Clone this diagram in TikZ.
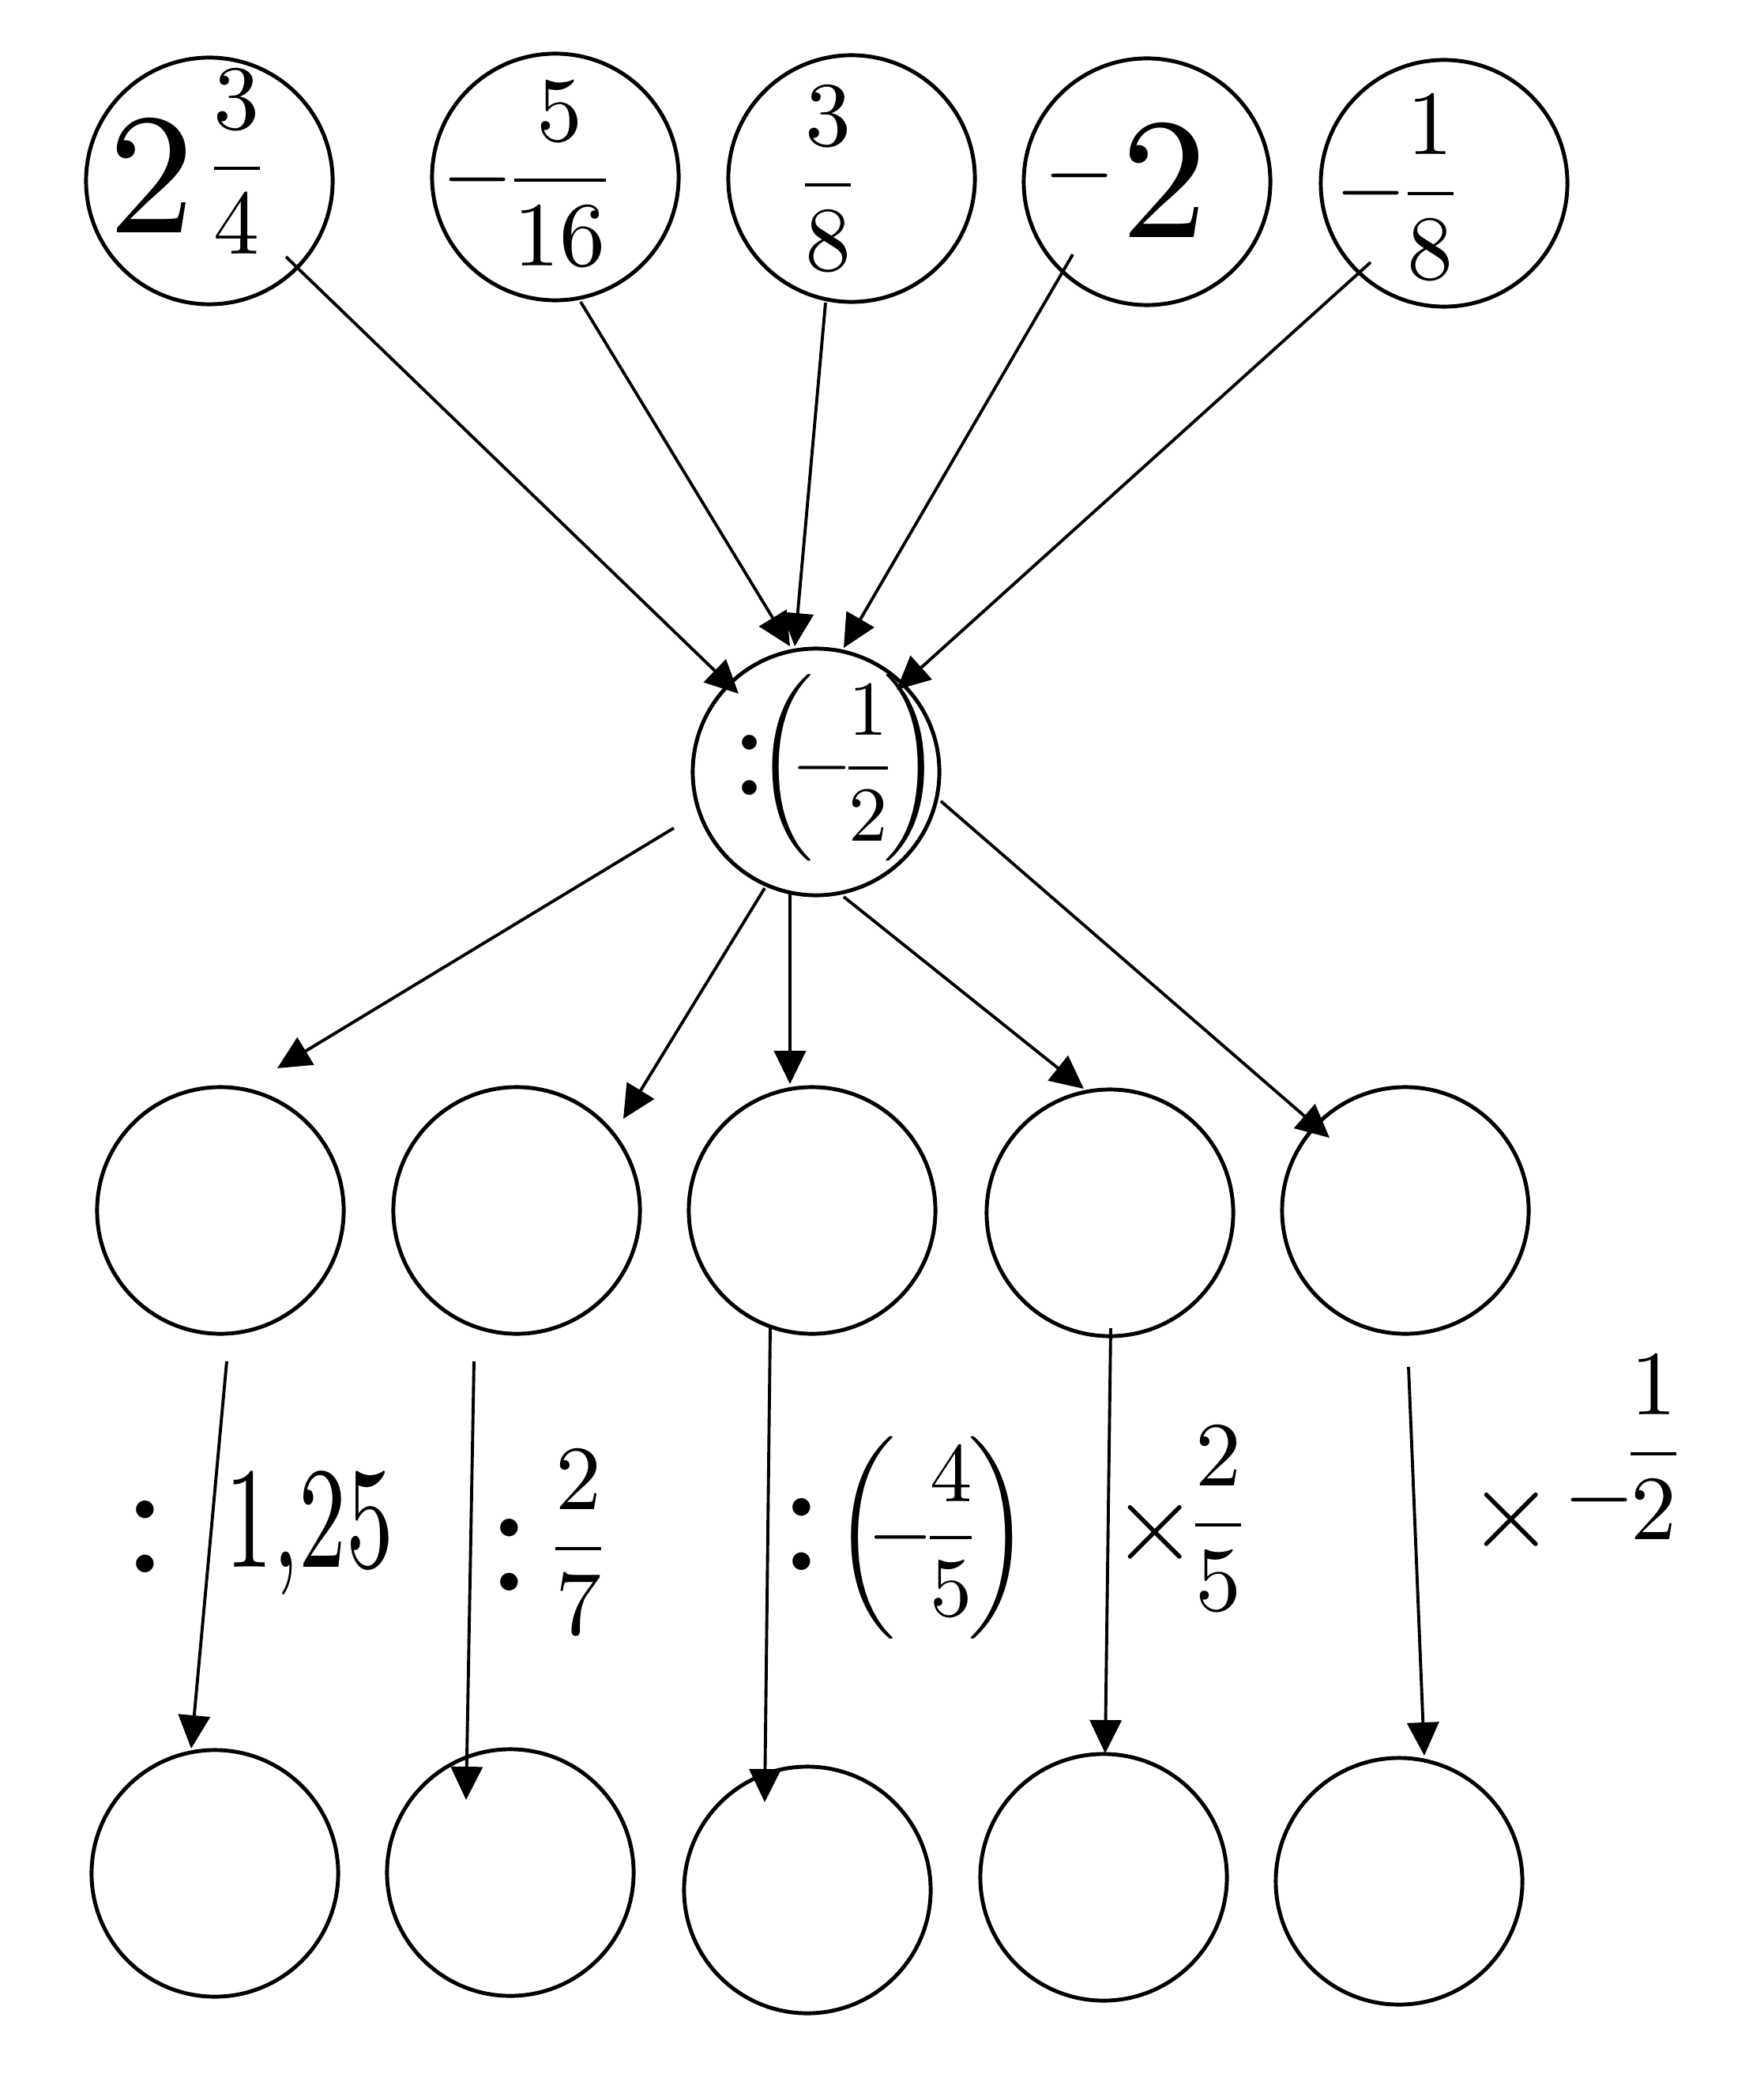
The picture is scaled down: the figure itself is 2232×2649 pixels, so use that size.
\documentclass[tikz,border=0pt]{standalone}
\usepackage{amsmath}
\usetikzlibrary{arrows.meta}
\begin{document}
\begin{tikzpicture}[x=0.01cm,y=-0.01cm,
  circ/.style={circle,draw,line width=1.4pt,minimum size=3.12cm,inner sep=0pt},
  arr/.style={line width=1.1pt,-{Triangle[length=4.2mm,width=4mm]}},
  txt/.style={inner sep=0pt,font=\normalsize,scale=3.3},
  midtxt/.style={inner sep=0pt,font=\normalsize,scale=2.8},
  bigtxt/.style={inner sep=0pt,font=\normalsize,xscale=3.4,yscale=5.2},
  coltxt/.style={inner sep=0pt,font=\normalsize,scale=6},
  multxt/.style={inner sep=0pt,font=\normalsize,scale=4}]
\fill[white] (0,0) rectangle (2232,2649);
\useasboundingbox (0,0) rectangle (2232,2649);
% top row
\node[circ] (t1) at (265,229) {};
\node[circ] (t2) at (703,224) {};
\node[circ] (t3) at (1078,226) {};
\node[circ] (t4) at (1452,230) {};
\node[circ] (t5) at (1828,232) {};
\node[txt] (t1l) at (240,205) {\raisebox{-4.5pt}{\scalebox{1.88}{2}}\hspace{0.9pt}$\dfrac{3}{4}$};
\node[txt] (t2l) at (670,220) {$-\mkern-2mu\dfrac{5}{16}$};
\node[txt] (t3l) at (1048,226) {$\dfrac{3}{8}$};
\node[txt] (t4l) at (1425,228) {$-$\hspace{0.6pt}\raisebox{-4.2pt}{\scalebox{1.88}{2}}};
\node[txt] (t5l) at (1772,237) {$-\mkern-2mu\dfrac{1}{8}$};
% middle
\node[circ] (m) at (1033,977) {};
\node[midtxt] (ml) at (1058,972) {\raisebox{-1pt}{\scalebox{1.79}{:}}$\mkern-3mu\left(\mkern-5mu-\mkern-3mu\dfrac{1}{2}\mkern-3mu\right)$};
% third row
\node[circ] (r1) at (279,1532) {};
\node[circ] (r2) at (654,1532) {};
\node[circ] (r3) at (1028,1532) {};
\node[circ] (r4) at (1405,1535) {};
\node[circ] (r5) at (1779,1532) {};
% bottom row
\node[circ] (s1) at (272,2371) {};
\node[circ] (s2) at (646,2370) {};
\node[circ] (s3) at (1022,2392) {};
\node[circ] (s4) at (1397,2376) {};
\node[circ] (s5) at (1771,2381) {};
% arrow end points
\coordinate (a1s) at (362,325);  \coordinate (a1e) at (935,878);
\coordinate (a2s) at (735,382);  \coordinate (a2e) at (1000,818);
\coordinate (a3s) at (1045,383); \coordinate (a3e) at (1006,818);
\coordinate (a4s) at (1358,322); \coordinate (a4e) at (1068,820);
\coordinate (a5s) at (1735,332); \coordinate (a5e) at (1135,873);
\coordinate (b1s) at (853,1048); \coordinate (b1e) at (351,1352);
\coordinate (b2s) at (968,1124); \coordinate (b2e) at (789,1416);
\coordinate (b3s) at (1000,1129); \coordinate (b3e) at (1000,1372);
\coordinate (b4s) at (1068,1135); \coordinate (b4e) at (1372,1378);
\coordinate (b5s) at (1191,1014); \coordinate (b5e) at (1683,1440);
\coordinate (c1s) at (287,1723); \coordinate (c1e) at (242,2213);
\coordinate (c2s) at (600,1723); \coordinate (c2e) at (590,2278);
\coordinate (c3s) at (975,1681); \coordinate (c3e) at (968,2281);
\coordinate (c4s) at (1406,1681); \coordinate (c4e) at (1399,2219);
\coordinate (c5s) at (1783,1730); \coordinate (c5e) at (1803,2222);
% arrows
\foreach \i in {a1,a2,a3,a4,a5,b1,b2,b3,b4,b5,c1,c2,c3,c4,c5}
  \draw[arr] (\i s) -- (\i e);
% operation labels
\node[coltxt] (l1c) at (184,1945) {:};
\node[bigtxt] (l1n) at (392,1940) {1,25};
\node[coltxt] (l2c) at (645,1968) {:};
\node[txt] (l2f) at (732,1952) {$\dfrac{2}{7}$};
\node[coltxt] (l3c) at (1015,1942) {:};
\node[txt,scale=0.92] (l3f) at (1180,1946) {$\left(\mkern-6mu-\mkern-3mu\dfrac{4}{5}\mkern-3mu\right)$};
\node[multxt] (l4x) at (1462,1939) {$\times$};
\node[txt] (l4f) at (1542,1922) {$\dfrac{2}{5}$};
\node[multxt] (l5x) at (1913,1923) {$\times$};
\node[txt] (l5m) at (2025,1898) {$-$};
\node[txt] (l5f) at (2093,1832) {$\dfrac{1}{2}$};
\end{tikzpicture}
\end{document}
